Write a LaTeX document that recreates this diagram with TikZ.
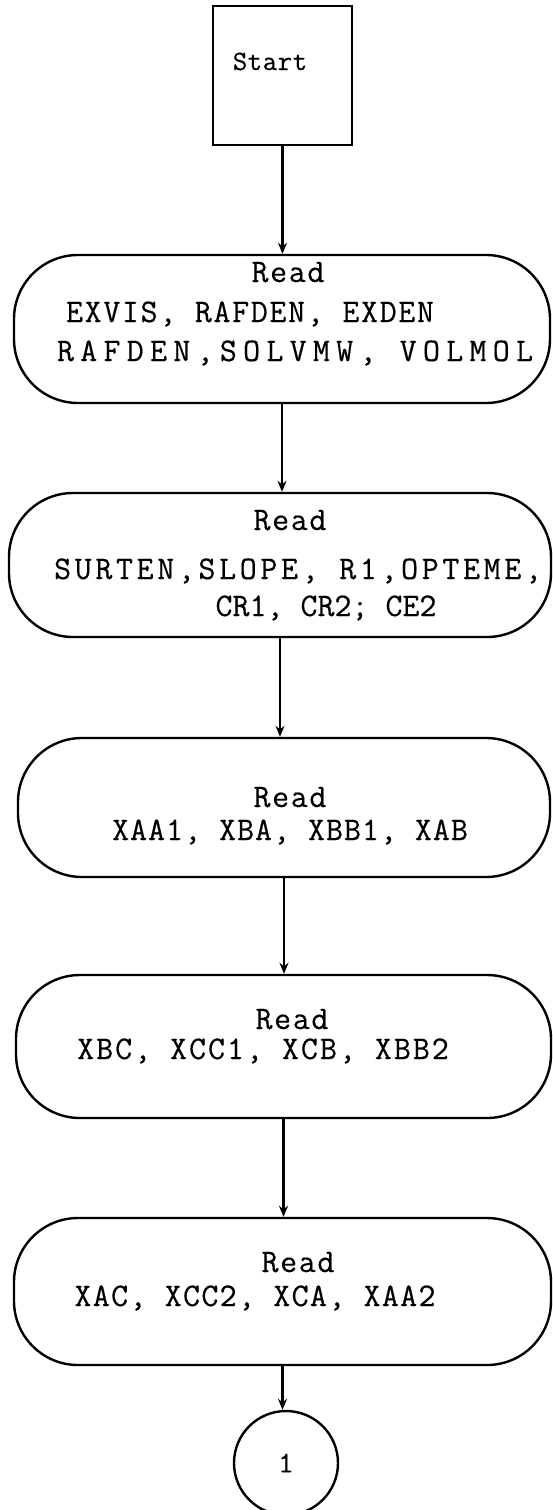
\documentclass[tikz,border=0pt]{standalone}
\usepackage{fontspec}
\newfontfamily\typer[FakeBold=0.4]{Latin Modern Mono}
\usetikzlibrary{arrows.meta}
\newcommand\spaced[2]{{\addfontfeature{LetterSpace=#1}#2}}
\begin{document}
\begin{tikzpicture}[x=1pt,y=-1pt,
  stepbox/.style={draw, line width=2.4pt, inner sep=0pt},
  terminal/.style={draw, line width=2.4pt, rounded corners=64pt, inner sep=0pt},
  connector/.style={draw, line width=2.4pt, circle, inner sep=0pt, minimum size=104pt,
    font=\typer\fontsize{30}{30}\selectfont},
  txt/.style={font=\typer\fontsize{33}{33}\selectfont, inner sep=0pt, anchor=base},
  flow/.style={line width=2.2pt, -{Stealth[length=11pt,width=9pt]}}]
\useasboundingbox (0,0) rectangle (552,1510);

% start box
\node[stepbox, minimum width=139pt, minimum height=139pt] (start) at (282.5,75.5) {};
\node[txt, font=\typer\fontsize{28}{28}\selectfont] (starttxt) at (270,70) {\spaced{2}{Start}};

% read blocks
\node[terminal, minimum width=536pt, minimum height=148pt] (t1) at (282,329) {};
\node[txt] (t1a) at (288,282) {\spaced{5}{Read}};
\node[txt] (t1b) at (250,322) {\spaced{5}{EXVIS, RAFDEN, EXDEN}};
\node[txt] (t1c) at (295,361) {\spaced{19}{RAFDEN,SOLVMW, VOLMOL}};

\node[terminal, minimum width=542pt, minimum height=144pt] (t2) at (280,565) {};
\node[txt] (t2a) at (290,530) {\spaced{5}{Read}};
\node[txt] (t2b) at (298,579) {\spaced{11}{SURTEN,SLOPE, R1,OPTEME,}};
\node[txt] (t2c) at (326,616) {CR1, CR2; CE2};

\node[terminal, minimum width=532pt, minimum height=139pt] (t3) at (284,807.5) {};
\node[txt] (t3a) at (290,807) {\spaced{5}{Read}};
\node[txt] (t3b) at (290,840) {\spaced{3}{XAA1, XBA, XBB1, XAB}};

\node[terminal, minimum width=535pt, minimum height=143pt] (t4) at (283.5,1046.5) {};
\node[txt] (t4a) at (292,1029) {\spaced{5}{Read}};
\node[txt] (t4b) at (263,1059) {\spaced{6}{XBC, XCC1, XCB, XBB2}};

\node[terminal, minimum width=537pt, minimum height=147pt] (t5) at (282.5,1291.5) {};
\node[txt] (t5a) at (298,1272) {\spaced{5}{Read}};
\node[txt] (t5b) at (255,1306) {\spaced{4}{XAC, XCC2, XCA, XAA2}};

% off-page connector
\node[connector] (c1) at (286,1463) {1};

% flow lines
\draw[flow] (start.south) -- (start.south |- t1.north);
\draw[flow] (t1.south) -- (t1.south |- t2.north);
\draw[flow] (t2.south) -- (t2.south |- t3.north);
\draw[flow] (t3.south) -- (t3.south |- t4.north);
\draw[flow] (t4.south) -- (t4.south |- t5.north);
\draw[flow] (t5.south) -- (t5.south |- c1.north);
\end{tikzpicture}
\end{document}
